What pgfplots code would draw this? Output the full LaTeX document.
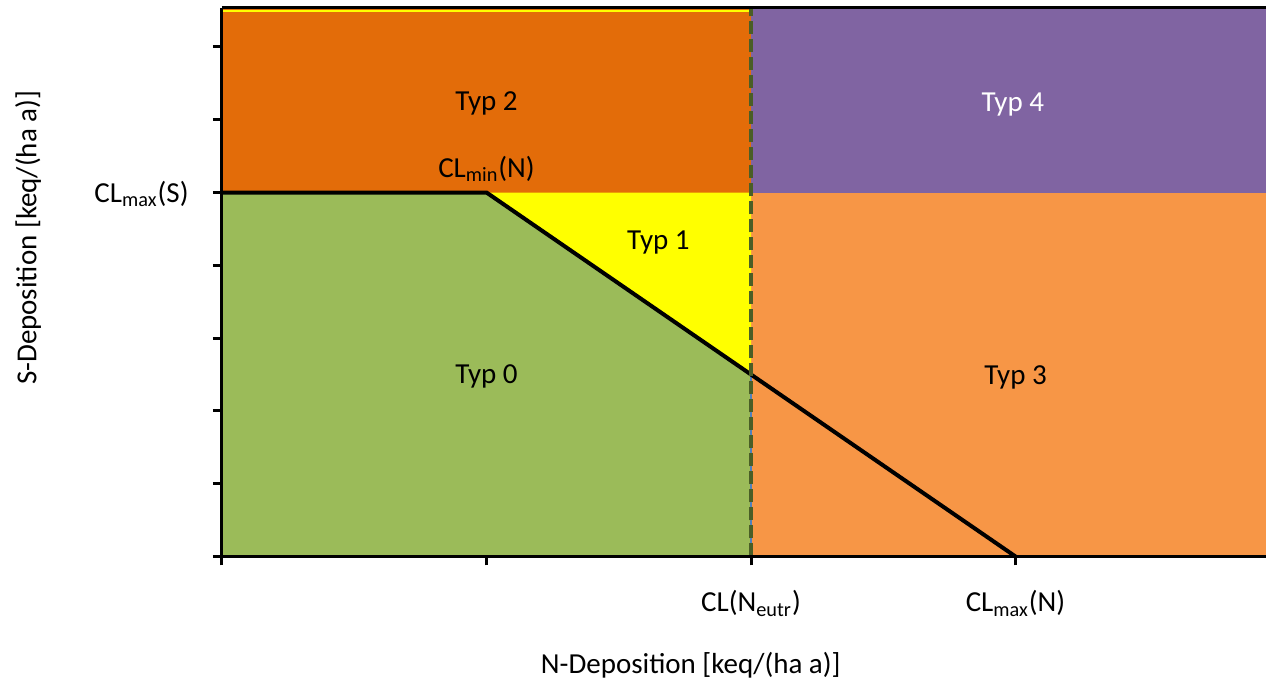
\documentclass[border=0pt]{standalone}
\usepackage{fontspec}
\setmainfont{Carlito}
\usepackage{pgfplots}
\pgfplotsset{compat=1.18}

\definecolor{typzero}{HTML}{9BBB59}
\definecolor{typone}{HTML}{FFFF00}
\definecolor{typtwo}{HTML}{E36C09}
\definecolor{typthree}{HTML}{F79646}
\definecolor{typfour}{HTML}{8064A2}
\definecolor{edgeblue}{HTML}{4F81BD}
\definecolor{darkolive}{HTML}{4A5E26}

\begin{document}
\begin{tikzpicture}
\begin{axis}[
  scale only axis,
  width=522pt, height=274.25pt,
  xmin=0, xmax=3.947, ymin=0, ymax=7.535,
  font=\fontsize{14.5}{17.4}\selectfont,
  axis x line=bottom, axis y line=left,
  axis line style={-, line width=1.5pt, black},
  axis on top,
  tick align=outside,
  major tick length=4.5pt,
  every tick/.style={black, line width=1.5pt},
  xtick={0,1,2,3},
  xticklabels={{},{},{CL(N\textsubscript{eutr})},{CL\textsubscript{max}(N)}},
  ytick={0,1,2,3,4,5,6,7},
  yticklabels={{},{},{},{},{},{CL\textsubscript{max}(S)},{},{}},
  xticklabel style={anchor=base, inner sep=0pt, yshift=-23.25pt},
  yticklabel style={anchor=base east, inner sep=0pt, xshift=-12pt, yshift=-5pt},
  xlabel={N-Deposition [keq/(ha a)]},
  ylabel={S-Deposition [keq/(ha a)]},
  xlabel style={at={(axis description cs:0.449,-0.198)}, anchor=center, inner sep=0pt},
  ylabel style={at={(axis description cs:-0.1858,0.581)}, anchor=center, inner sep=0pt},
]
% Typ 2: above CLmax(S), left of CL(Neutr)
\addplot [fill=typtwo, draw=none] coordinates {(0,5) (2,5) (2,7.6) (0,7.6)};
% Typ 4: above CLmax(S), right of CL(Neutr)
\addplot [fill=typfour, draw=none] coordinates {(2,5) (4,5) (4,7.6) (2,7.6)};
% Typ 3: below CLmax(S), right of CL(Neutr)
\addplot [fill=typthree, draw=none] coordinates {(2,0) (4,0) (4,5) (2,5)};
% Typ 1: between the critical load function and CL(Neutr)
\addplot [fill=typone, draw=none] coordinates {(1,5) (2,5) (2,2.5)};
% Typ 0: below the critical load function
\addplot [fill=typzero, draw=edgeblue, line width=0.8pt] coordinates {(0,0) (0,5) (1,5) (2,2.5) (2,0)};
% thin top edge of the left band
\addplot [typone, line width=1pt] coordinates {(0,7.49) (2,7.49)};
% critical load function
\addplot [black, line width=2pt] coordinates {(0,5) (1,5) (3,0)};
% CL(Neutr)
\addplot [darkolive, line width=2pt, dash pattern=on 6.5pt off 2.5pt] coordinates {(2,0) (2,7.6)};

\node at (axis cs:1.0,6.23) {Typ 2};
\node[text=white] at (axis cs:2.99,6.21) {Typ 4};
\node at (axis cs:1.65,4.31) {Typ 1};
\node at (axis cs:1.0,2.48) {Typ 0};
\node at (axis cs:3.0,2.46) {Typ 3};
\node at (axis cs:1.0,5.32) {CL\textsubscript{min}(N)};
\end{axis}
\draw[line width=1.5pt] (current axis.north west) -- (current axis.north east);
\pgfresetboundingbox
\path[use as bounding box] ([shift={(-111pt,-65.75pt)}]current axis.south west) rectangle ([shift={(0pt,4pt)}]current axis.north east);
\end{tikzpicture}
\end{document}
